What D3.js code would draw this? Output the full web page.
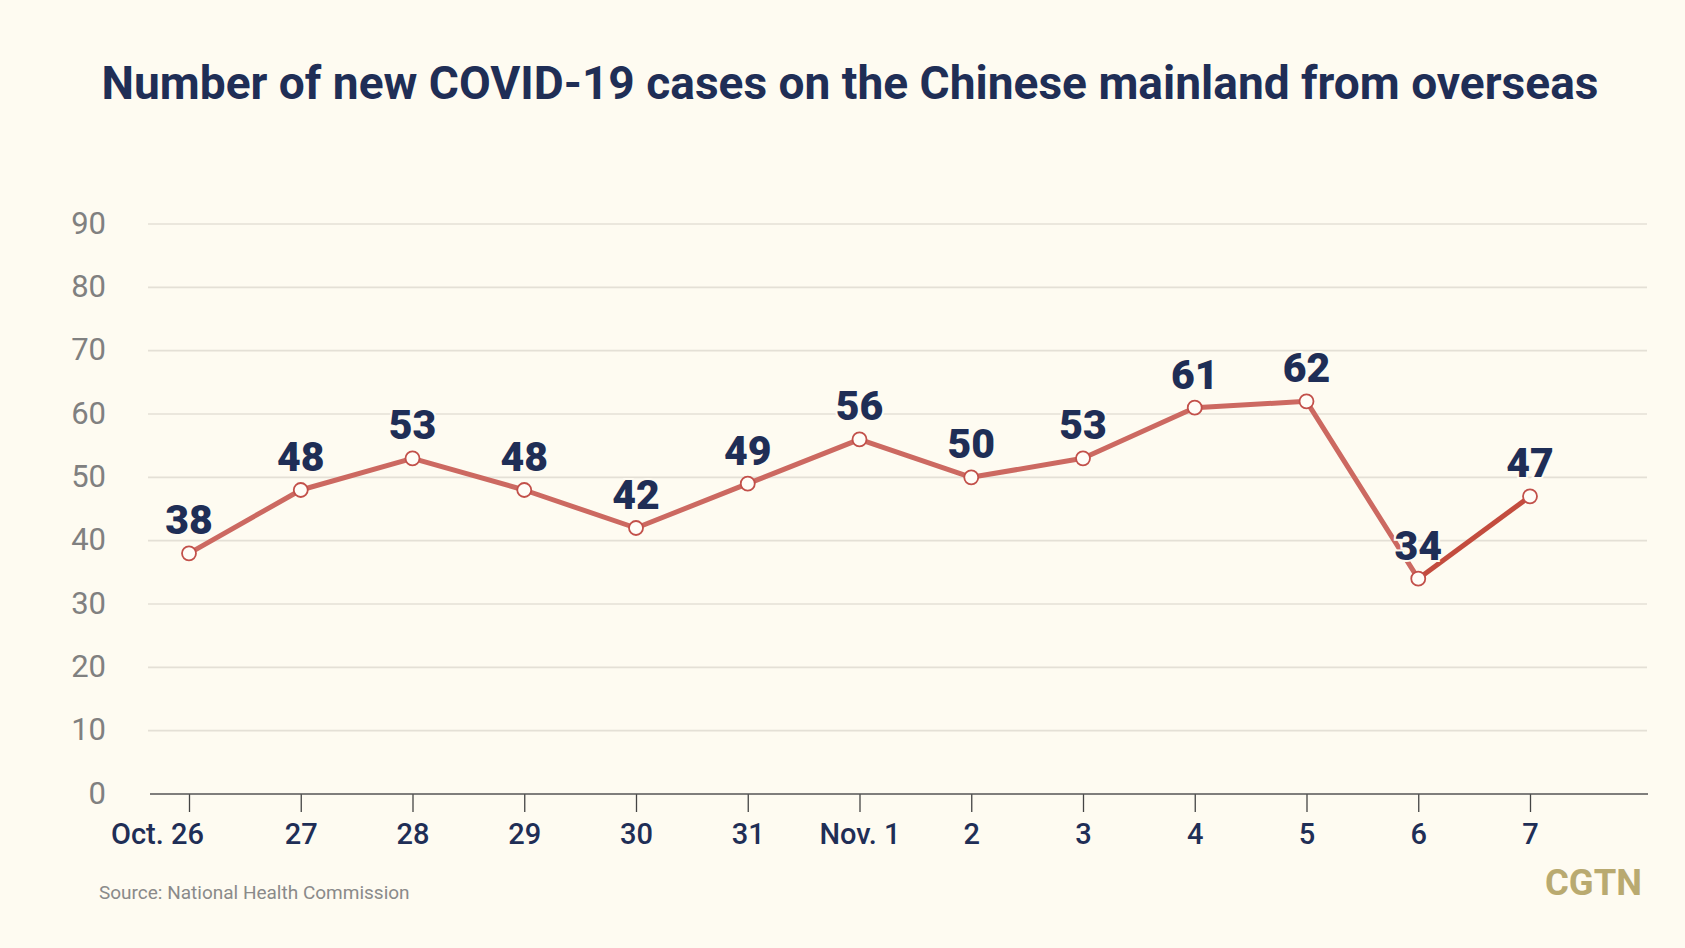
<!DOCTYPE html>
<html>
<head>
<meta charset="utf-8">
<script src="https://cdn.jsdelivr.net/npm/d3@7"></script>
<style>
  html, body { margin: 0; padding: 0; background: #fefbf1; }
  svg { display: block; }
</style>
</head>
<body>
<svg id="chart" width="1685" height="948"></svg>
<script>
const categories = ["Oct. 26", "27", "28", "29", "30", "31", "Nov. 1", "2", "3", "4", "5", "6", "7"];
const cases = [38, 48, 53, 48, 42, 49, 56, 50, 53, 61, 62, 34, 47];
const yTicks = [0, 10, 20, 30, 40, 50, 60, 70, 80, 90];
const titleText = "Number of new COVID-19 cases on the Chinese mainland from overseas";
const sourceText = "Source: National Health Commission";
const logoText = "CGTN";

const W = 1685, H = 948;
const svg = d3.select("#chart");
svg.append("rect").attr("width", W).attr("height", H).attr("fill", "#fefbf1");

const plot = { left: 148, right: 1647, top: 224, bottom: 794 };
const x = d3.scalePoint().domain(categories).range([189, 1530]);
const y = d3.scaleLinear().domain([0, 90]).range([plot.bottom, plot.top]);

// Title
svg.append("text")
  .attr("x", 850).attr("y", 99)
  .attr("text-anchor", "middle")
  .attr("font-family", "Roboto, 'Open Sans', sans-serif")
  .attr("font-weight", 700)
  .attr("font-size", 47)
  .attr("fill", "#1f2e56")
  .attr("textLength", 1497)
  .attr("lengthAdjust", "spacingAndGlyphs")
  .text(titleText);

// Grid lines
svg.append("g").selectAll("line")
  .data(yTicks.filter(d => d > 0))
  .join("line")
  .attr("x1", plot.left).attr("x2", plot.right)
  .attr("y1", d => y(d)).attr("y2", d => y(d))
  .attr("stroke", "#e4e0d6").attr("stroke-width", 1.6);

// Y axis labels
const yAxis = d3.axisLeft(y).tickValues(yTicks).tickSize(0).tickPadding(0);
const gy = svg.append("g").attr("transform", `translate(106,0)`).call(yAxis);
gy.select(".domain").remove();
gy.selectAll("text")
  .attr("font-family", "Roboto, sans-serif")
  .attr("font-size", 31)
  .attr("font-weight", 400)
  .attr("fill", "#808080")
  .attr("dy", "0.3em");

// X axis
const xAxis = d3.axisBottom(x).tickSize(18).tickPadding(9);
const gx = svg.append("g").attr("transform", `translate(0,${plot.bottom})`).call(xAxis);
gx.select(".domain").remove();
gx.append("line")
  .attr("x1", 150).attr("x2", 1648)
  .attr("y1", 0).attr("y2", 0)
  .attr("stroke", "#555").attr("stroke-width", 1.5);
gx.selectAll(".tick line").attr("stroke", "#444").attr("stroke-width", 1.3);
gx.selectAll(".tick text")
  .attr("font-family", "Roboto, sans-serif")
  .attr("font-size", 29)
  .attr("font-weight", 500)
  .attr("fill", "#1f2e56")
  .attr("dy", "0.8em")
  .attr("dx", (d, i) => i === 0 ? -32 : 0);

// Line
const pts = categories.map((c, i) => ({ c, v: cases[i] }));
const line = d3.line().x(d => x(d.c)).y(d => y(d.v));
svg.append("path")
  .datum(pts.slice(0, pts.length - 1))
  .attr("d", line)
  .attr("fill", "none")
  .attr("stroke", "#cc6961")
  .attr("stroke-width", 5)
  .attr("stroke-linejoin", "round");
svg.append("path")
  .datum(pts.slice(pts.length - 2))
  .attr("d", line)
  .attr("fill", "none")
  .attr("stroke", "#c34c3e")
  .attr("stroke-width", 5)
  .attr("stroke-linejoin", "round");

// Points
svg.append("g").selectAll("circle")
  .data(pts)
  .join("circle")
  .attr("cx", d => x(d.c)).attr("cy", d => y(d.v))
  .attr("r", 7)
  .attr("fill", "#fffdf7")
  .attr("stroke", "#c2504a")
  .attr("stroke-width", 1.8);

// Value labels
svg.append("g").selectAll("text")
  .data(pts)
  .join("text")
  .attr("x", d => x(d.c)).attr("y", d => y(d.v) - 19)
  .attr("text-anchor", "middle")
  .attr("font-family", "Roboto, sans-serif")
  .attr("font-weight", 900)
  .attr("font-size", 41)
  .attr("fill", "#1f2e56")
  .attr("stroke", "#fefbf1")
  .attr("stroke-width", 4)
  .attr("paint-order", "stroke")
  .text(d => d.v);

// Source
svg.append("text")
  .attr("x", 99).attr("y", 899)
  .attr("font-family", "Roboto, sans-serif")
  .attr("font-size", 19)
  .attr("fill", "#8a8a8a")
  .text(sourceText);

// Logo
svg.append("text")
  .attr("x", 1545).attr("y", 895)
  .attr("font-family", "Roboto, sans-serif")
  .attr("font-weight", 700)
  .attr("font-size", 37)
  .attr("fill", "#b9aa70")
  .attr("textLength", 97)
  .attr("lengthAdjust", "spacingAndGlyphs")
  .text(logoText);
</script>
</body>
</html>
